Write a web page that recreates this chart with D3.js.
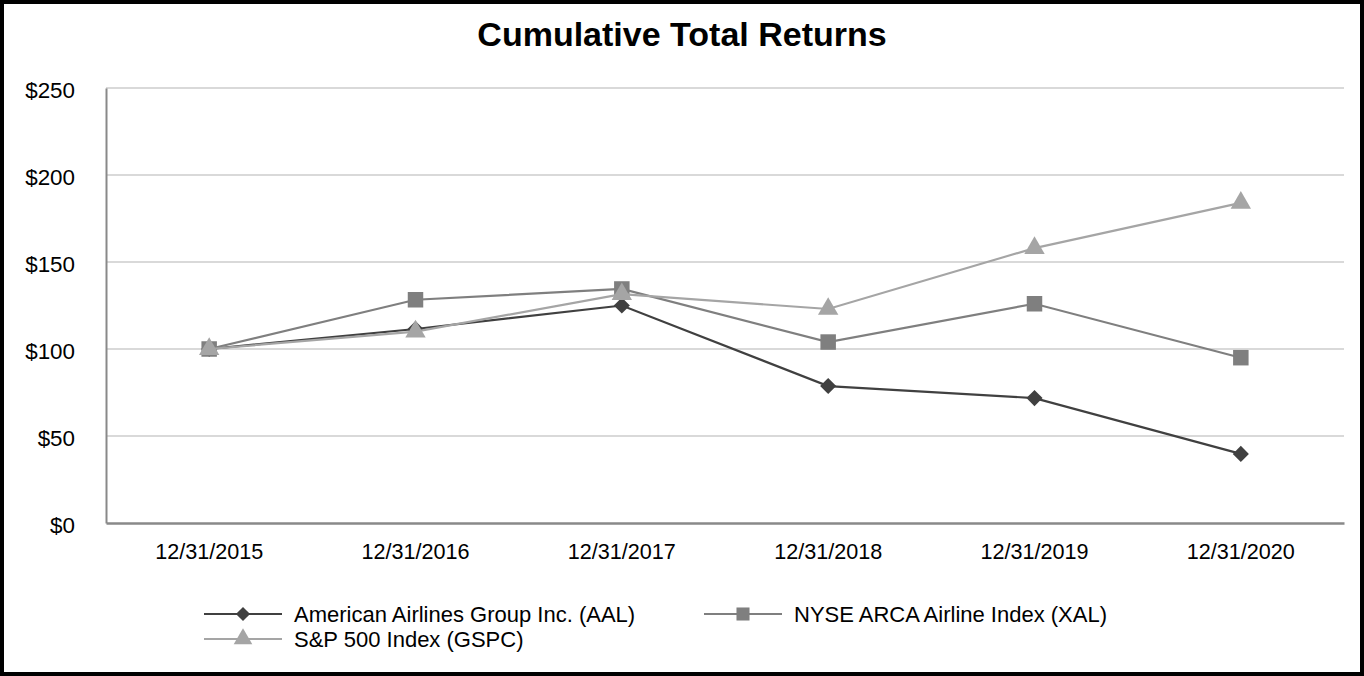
<!DOCTYPE html>
<html lang="en">
<head>
    <meta charset="UTF-8">
    <title>Cumulative Total Returns</title>
    <script src="https://d3js.org/d3.v7.min.js"></script>
    <style>
        body {
            margin: 0;
            background-color: #ffffff;
            font-family: "Liberation Sans", Arial, sans-serif;
        }
        svg {
            display: block;
        }
    </style>
</head>
<body>
<svg id="chart"></svg>

<script>
    // Data
    const categories = ["12/31/2015", "12/31/2016", "12/31/2017", "12/31/2018", "12/31/2019", "12/31/2020"];
    const aalValues = [100, 111.5, 125, 78.7, 71.8, 39.7];
    const xalValues = [100, 128.3, 134.5, 104, 126, 95];
    const gspcValues = [100, 110, 131.5, 123, 158, 184];
    const yTicks = [0, 50, 100, 150, 200, 250];

    // diamond = square turned 45 degrees, like the reference markers
    const series = [
        {name: "American Airlines Group Inc. (AAL)", values: aalValues, color: "#404040", symbol: d3.symbolSquare, rotate: 45, size: 130, legendSize: 100},
        {name: "NYSE ARCA Airline Index (XAL)", values: xalValues, color: "#7f7f7f", symbol: d3.symbolSquare, rotate: 0, size: 240, legendSize: 170},
        {name: "S&P 500 Index (GSPC)", values: gspcValues, color: "#a5a5a5", symbol: d3.symbolTriangle, rotate: 0, size: 180, legendSize: 150}
    ];

    const svgWidth = 1364;
    const svgHeight = 676;
    const plot = {left: 106, right: 1344, top: 88, bottom: 523};

    const svg = d3.select("#chart")
        .attr("width", svgWidth)
        .attr("height", svgHeight);

    // outer frame
    svg.append("rect")
        .attr("x", 2)
        .attr("y", 2)
        .attr("width", svgWidth - 4)
        .attr("height", svgHeight - 4)
        .attr("fill", "#ffffff")
        .attr("stroke", "#000000")
        .attr("stroke-width", 4);

    // title
    svg.append("text")
        .attr("x", 682)
        .attr("y", 46)
        .attr("text-anchor", "middle")
        .attr("font-size", "34px")
        .attr("font-weight", "bold")
        .attr("fill", "#000000")
        .text("Cumulative Total Returns");

    const xScale = d3.scaleBand()
        .domain(categories)
        .range([plot.left, plot.right]);

    const yScale = d3.scaleLinear()
        .domain([0, 250])
        .range([plot.bottom, plot.top]);

    const cx = d => xScale(d) + xScale.bandwidth() / 2;

    // gridlines
    svg.append("g")
        .selectAll("line")
        .data(yTicks.filter(t => t > 0))
        .enter()
        .append("line")
        .attr("x1", plot.left)
        .attr("x2", plot.right)
        .attr("y1", d => yScale(d))
        .attr("y2", d => yScale(d))
        .attr("stroke", "#d9d9d9")
        .attr("stroke-width", 2);

    // y axis
    const yAxis = svg.append("g")
        .attr("transform", `translate(${plot.left},0)`)
        .call(d3.axisLeft(yScale).tickValues(yTicks).tickSize(0).tickPadding(31).tickFormat(d => "$" + d));
    yAxis.select(".domain").attr("stroke", "#898989").attr("stroke-width", 2);
    yAxis.selectAll("text")
        .attr("font-size", "22.4px")
        .attr("font-family", "Liberation Sans, Arial, sans-serif")
        .attr("fill", "#000000")
        .attr("dy", "0.42em");

    // x axis
    const xAxis = svg.append("g")
        .attr("transform", `translate(0,${plot.bottom})`)
        .call(d3.axisBottom(xScale).tickSize(0).tickPadding(21));
    xAxis.select(".domain").attr("stroke", "#898989").attr("stroke-width", 2.5);
    xAxis.selectAll("text")
        .attr("font-size", "21.6px")
        .attr("font-family", "Liberation Sans, Arial, sans-serif")
        .attr("fill", "#000000");

    // lines and markers
    const line = d3.line()
        .x((d, i) => cx(categories[i]))
        .y(d => yScale(d));

    series.forEach(s => {
        const g = svg.append("g");
        g.append("path")
            .datum(s.values)
            .attr("fill", "none")
            .attr("stroke", s.color)
            .attr("stroke-width", 2.2)
            .attr("d", line);
        g.selectAll("path.marker")
            .data(s.values)
            .enter()
            .append("path")
            .attr("class", "marker")
            .attr("transform", (d, i) => `translate(${cx(categories[i])},${yScale(d)}) rotate(${s.rotate})`)
            .attr("d", d3.symbol().type(s.symbol).size(s.size))
            .attr("fill", s.color);
    });

    // legend
    const legendPos = [
        {x: 204, y: 614},
        {x: 704, y: 614},
        {x: 204, y: 639}
    ];

    series.forEach((s, i) => {
        const p = legendPos[i];
        const lg = svg.append("g").attr("transform", `translate(${p.x},${p.y})`);
        lg.append("line")
            .attr("x1", 0)
            .attr("x2", 78)
            .attr("stroke", s.color)
            .attr("stroke-width", 2.2);
        lg.append("path")
            .attr("transform", `translate(39,0) rotate(${s.rotate})`)
            .attr("d", d3.symbol().type(s.symbol).size(s.legendSize))
            .attr("fill", s.color);
        lg.append("text")
            .attr("x", 90)
            .attr("dy", "0.35em")
            .attr("font-size", "22px")
            .attr("fill", "#000000")
            .text(s.name);
    });
</script>
</body>
</html>
